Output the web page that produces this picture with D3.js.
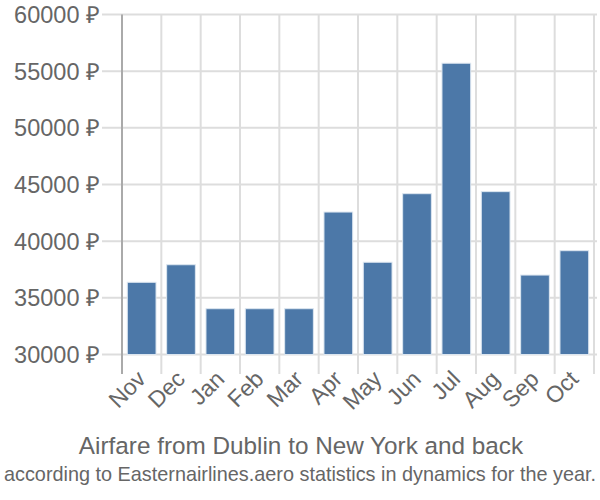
<!DOCTYPE html>
<html><head><meta charset="utf-8">
<script src="https://cdn.jsdelivr.net/npm/d3@7"></script>
<style>body{margin:0;background:#fff}svg{display:block}</style>
</head><body><svg id="c" width="600" height="500"></svg>
<script>
const months = ["Nov","Dec","Jan","Feb","Mar","Apr","May","Jun","Jul","Aug","Sep","Oct"];
const prices = [36370,37920,34040,34040,34040,42570,38140,44190,55700,44370,37010,39160];
const yTicks = [30000,35000,40000,45000,50000,55000,60000];
const title = "Airfare from Dublin to New York and back";
const subtitle = "according to Easternairlines.aero statistics in dynamics for the year.";

const svg = d3.select("#c");
const L=122, R=594, T=14.5, B=354.5;
const x = d3.scaleBand().domain(months).range([L,R]).paddingInner(0.27).paddingOuter(0.135);
const y = d3.scaleLinear().domain([30000,60000]).range([B,T]);
const font = "'Liberation Sans', Arial, sans-serif";

// horizontal grid
svg.append("g").selectAll("line").data(yTicks).join("line")
  .attr("x1",102).attr("x2",597).attr("y1",d=>y(d)).attr("y2",d=>y(d))
  .attr("stroke","#ddd").attr("stroke-width",2);
// vertical grid at band edges
const step = x.step();
const edges = d3.range(months.length+1).map(i=>L+i*step);
svg.append("g").selectAll("line").data(edges.slice(1)).join("line")
  .attr("x1",d=>d).attr("x2",d=>d).attr("y1",T).attr("y2",374)
  .attr("stroke","#ddd").attr("stroke-width",2);
// y axis line
svg.append("line").attr("x1",L).attr("x2",L).attr("y1",T).attr("y2",374)
  .attr("stroke","#aaa").attr("stroke-width",2);

// bars
svg.append("g").selectAll("rect").data(months).join("rect")
  .attr("x",d=>x(d)).attr("width",x.bandwidth())
  .attr("y",(d,i)=>y(prices[i])).attr("height",(d,i)=>B-y(prices[i]))
  .attr("fill","#4c78a8").attr("stroke","#dce6f0").attr("stroke-width",1);

// y labels
svg.append("g").selectAll("text").data(yTicks).join("text")
  .attr("x",100).attr("y",d=>y(d)).attr("dy","0.36em")
  .attr("text-anchor","end").attr("font-family",font).attr("font-size",23.5)
  .attr("fill","#666").text(d=>d+" ₽");

// x labels
svg.append("g").selectAll("text").data(months).join("text")
  .attr("transform",d=>`translate(${x(d)+x.bandwidth()/2-6},${369}) rotate(-45)`)
  .attr("text-anchor","end").attr("dy","0.7em").attr("font-family",font).attr("font-size",23)
  .attr("fill","#666").text(d=>d);

svg.append("text").attr("x",301).attr("y",454).attr("text-anchor","middle")
  .attr("font-family",font).attr("font-size",24.3).attr("fill","#666").text(title);
svg.append("text").attr("transform","translate(300,481) scale(1,1.15)").attr("text-anchor","middle")
  .attr("font-family",font).attr("font-size",18).attr("fill","#666")
  .attr("textLength",592).attr("lengthAdjust","spacingAndGlyphs").text(subtitle);
</script></body></html>
